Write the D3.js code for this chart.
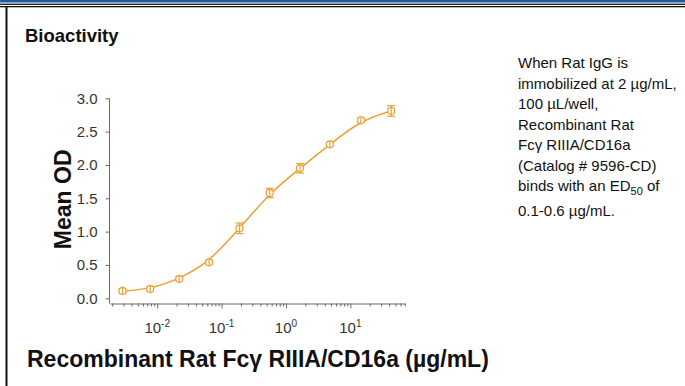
<!DOCTYPE html>
<html>
<head>
<meta charset="utf-8">
<script src="https://cdn.jsdelivr.net/npm/d3@7"></script>
<style>
body { margin: 0; background: #fff; }
.axis path, .axis line { stroke: #6a6a6a; }
.axis text { fill: #333; font-family: "Liberation Sans Narrow", "Arial Narrow", sans-serif; font-size: 15px; }
</style>
</head>
<body>
<div id="chart"></div>
<script>
// ug/mL, 3-fold series
const conc = [0.0029, 0.0078, 0.022, 0.064, 0.19, 0.56, 1.65, 4.8, 14.6, 43];
const meanOD = [0.11, 0.14, 0.29, 0.54, 1.05, 1.58, 1.95, 2.31, 2.67, 2.81];
const errOD = [0.03, 0.03, 0.03, 0.03, 0.08, 0.07, 0.07, 0.02, 0.03, 0.08];
const yTicks = [0, 0.5, 1.0, 1.5, 2.0, 2.5, 3.0];
const xTickExp = [-2, -1, 0, 1];
const noteLines = [
    'When Rat IgG is',
    'immobilized at 2 \u00b5g/mL,',
    '100 \u00b5L/well,',
    'Recombinant Rat',
    'Fc\u03b3 RIIIA/CD16a',
    '(Catalog # 9596-CD)',
    'binds with an ED|50| of',
    '0.1-0.6 \u00b5g/mL.'
];

const width = 685;
const height = 386;
const orange = '#eea032';

const svg = d3.select('#chart')
    .append('svg')
    .attr('width', width)
    .attr('height', height);

// page frame
svg.append('rect').attr('x', 0).attr('y', 0).attr('width', width).attr('height', 2.5).attr('fill', '#1d5b9e');
svg.append('rect').attr('x', 0).attr('y', 3.6).attr('width', width).attr('height', 1.3).attr('fill', '#111');
svg.append('rect').attr('x', 0).attr('y', 6).attr('width', width).attr('height', 1.3).attr('fill', '#111');
svg.append('rect').attr('x', 5.5).attr('y', 6).attr('width', 2).attr('height', height - 6).attr('fill', '#111');

svg.append('text')
    .attr('x', 25).attr('y', 42)
    .attr('font-family', 'Liberation Sans, Arial, sans-serif')
    .attr('font-weight', 'bold')
    .attr('font-size', 18.5)
    .attr('fill', '#111')
    .text('Bioactivity');

const x = d3.scaleLog().domain([0.00185, 70.5]).range([110, 405]);
const y = d3.scaleLinear().domain([0, 3]).range([298.3, 98.3]);
const xAxisY = 303.5;

// x axis with minor ticks
const gx = svg.append('g')
    .attr('class', 'axis')
    .attr('transform', `translate(0,${xAxisY})`)
    .call(d3.axisBottom(x).tickValues(x.ticks()).tickSizeOuter(0).tickFormat(() => ''));
gx.selectAll('.tick line')
    .attr('y2', d => Number.isInteger(Math.round(Math.log10(d) * 1000) / 1000) ? 5 : 3);

const xl = svg.append('g').attr('class', 'axis');
const lab = xl.selectAll('text')
    .data(xTickExp)
    .join('text')
    .attr('x', d => x(Math.pow(10, d)))
    .attr('y', 333)
    .attr('text-anchor', 'middle');
lab.append('tspan').text('10');
lab.append('tspan').attr('dy', -6).attr('font-size', 10).text(d => d < 0 ? '-' + (-d) : d);

// y axis
const gy = svg.append('g')
    .attr('class', 'axis')
    .attr('transform', 'translate(109.5,0)')
    .call(d3.axisLeft(y).tickValues(yTicks).tickFormat(d3.format('.1f')).tickSize(4).tickSizeOuter(0).tickPadding(8));
gy.select('.domain').attr('d', `M0,${y(3)}V${xAxisY}`);

svg.append('text')
    .attr('transform', `translate(71,${(y(0) + y(3)) / 2 + 1}) rotate(-90)`)
    .attr('text-anchor', 'middle')
    .attr('font-family', 'Liberation Sans, Arial, sans-serif')
    .attr('font-weight', 'bold')
    .attr('font-size', 23)
    .attr('fill', '#111')
    .text('Mean OD');

svg.append('text')
    .attr('x', 27).attr('y', 367)
    .attr('font-family', 'Liberation Sans, Arial, sans-serif')
    .attr('font-weight', 'bold')
    .attr('font-size', 23)
    .attr('fill', '#111')
    .text('Recombinant Rat Fc\u03b3 RIIIA/CD16a (\u00b5g/mL)');

// smoothed curve
const pts = conc.map((c, i) => [c, meanOD[i], errOD[i]]);
const line = d3.line()
    .x(d => x(d[0]))
    .y(d => y(d[1]))
    .curve(d3.curveBasis);
svg.append('path')
    .datum(pts)
    .attr('fill', 'none')
    .attr('stroke', orange)
    .attr('stroke-width', 1.5)
    .attr('d', line);

// points with error bars
const pg = svg.append('g')
    .attr('stroke', orange)
    .attr('fill', 'none')
    .attr('stroke-width', 1.2)
    .selectAll('g')
    .data(pts)
    .join('g');
pg.append('line')
    .attr('x1', d => x(d[0])).attr('x2', d => x(d[0]))
    .attr('y1', d => y(d[1] - d[2])).attr('y2', d => y(d[1] + d[2]));
pg.append('line')
    .attr('x1', d => x(d[0]) - 4).attr('x2', d => x(d[0]) + 4)
    .attr('y1', d => y(d[1] - d[2])).attr('y2', d => y(d[1] - d[2]));
pg.append('line')
    .attr('x1', d => x(d[0]) - 4).attr('x2', d => x(d[0]) + 4)
    .attr('y1', d => y(d[1] + d[2])).attr('y2', d => y(d[1] + d[2]));
pg.append('circle')
    .attr('cx', d => x(d[0]))
    .attr('cy', d => y(d[1]))
    .attr('r', 3.5)
    .attr('fill', '#fff');
pg.append('line')
    .attr('x1', d => x(d[0])).attr('x2', d => x(d[0]))
    .attr('y1', d => y(d[1]) - 3.5).attr('y2', d => y(d[1]) + 3.5);

// note at right
const note = svg.append('g')
    .attr('font-family', 'Liberation Sans, Arial, sans-serif')
    .attr('font-size', 15)
    .attr('fill', '#111');
noteLines.forEach((t, i) => {
    const tx = note.append('text')
        .attr('x', 518)
        .attr('y', 68 + i * 20.5 + (i === 7 ? 4.5 : 0));
    t.split('|').forEach((part, j) => {
        if (j === 1) {
            tx.append('tspan').attr('font-size', 11).attr('dy', 4).text(part);
        } else if (j === 2) {
            tx.append('tspan').attr('dy', -4).text(part);
        } else {
            tx.append('tspan').text(part);
        }
    });
});
</script>
</body>
</html>
